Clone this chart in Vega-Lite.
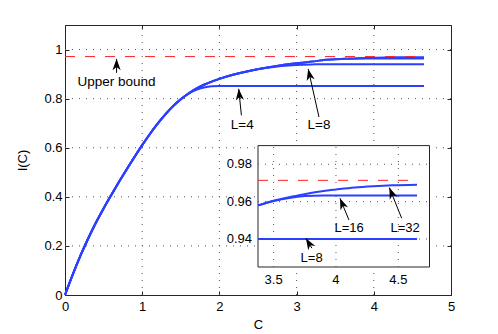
{
  "$schema": "https://vega.github.io/schema/vega-lite/v6.json",
  "width": 386,
  "height": 270,
  "autosize": {"type": "none"},
  "padding": {"left": 65, "top": 25, "right": 47, "bottom": 39},
  "background": "white",
  "config": {
    "view": {"stroke": "#262626", "strokeWidth": 1},
    "font": "Liberation Sans",
    "axis": {
      "labelFont": "Liberation Sans",
      "labelFontSize": 13,
      "labelColor": "black",
      "titleFont": "Liberation Sans",
      "titleFontSize": 13,
      "titleFontWeight": "normal",
      "titleColor": "black",
      "domainColor": "#262626",
      "tickColor": "#262626",
      "tickSize": -4,
      "labelFlush": false,
      "labelOverlap": false
    },
    "text": {"font": "Liberation Sans", "fontSize": 13, "color": "black"}
  },
  "datasets": {
    "curves": [
      {"L": "4", "C": 0, "I": 0}, {"L": "4", "C": 0.1, "I": 0.083}, {"L": "4", "C": 0.2, "I": 0.16}, {"L": "4", "C": 0.3, "I": 0.23}, {"L": "4", "C": 0.4, "I": 0.2945}, {"L": "4", "C": 0.5, "I": 0.3525}, {"L": "4", "C": 0.6, "I": 0.4075}, {"L": "4", "C": 0.7, "I": 0.461}, {"L": "4", "C": 0.8, "I": 0.5125}, {"L": "4", "C": 0.9, "I": 0.5625}, {"L": "4", "C": 1.0, "I": 0.6105}, {"L": "4", "C": 1.1, "I": 0.656}, {"L": "4", "C": 1.2, "I": 0.698}, {"L": "4", "C": 1.3, "I": 0.736}, {"L": "4", "C": 1.4, "I": 0.7695}, {"L": "4", "C": 1.5, "I": 0.7975}, {"L": "4", "C": 1.6, "I": 0.8205}, {"L": "4", "C": 1.7, "I": 0.836}, {"L": "4", "C": 1.8, "I": 0.8455}, {"L": "4", "C": 1.9, "I": 0.85}, {"L": "4", "C": 2.0, "I": 0.851}, {"L": "4", "C": 2.2, "I": 0.851}, {"L": "4", "C": 4.65, "I": 0.851},
      {"L": "8", "C": 0, "I": 0}, {"L": "8", "C": 0.1, "I": 0.083}, {"L": "8", "C": 0.2, "I": 0.16}, {"L": "8", "C": 0.3, "I": 0.23}, {"L": "8", "C": 0.4, "I": 0.2945}, {"L": "8", "C": 0.5, "I": 0.3525}, {"L": "8", "C": 0.6, "I": 0.4075}, {"L": "8", "C": 0.7, "I": 0.461}, {"L": "8", "C": 0.8, "I": 0.5125}, {"L": "8", "C": 0.9, "I": 0.5625}, {"L": "8", "C": 1.0, "I": 0.6105}, {"L": "8", "C": 1.1, "I": 0.656}, {"L": "8", "C": 1.2, "I": 0.698}, {"L": "8", "C": 1.3, "I": 0.736}, {"L": "8", "C": 1.4, "I": 0.7695}, {"L": "8", "C": 1.5, "I": 0.7975}, {"L": "8", "C": 1.6, "I": 0.821}, {"L": "8", "C": 1.7, "I": 0.8405}, {"L": "8", "C": 1.8, "I": 0.8565}, {"L": "8", "C": 1.9, "I": 0.8695}, {"L": "8", "C": 2.0, "I": 0.8805}, {"L": "8", "C": 2.2, "I": 0.899}, {"L": "8", "C": 2.4, "I": 0.9135}, {"L": "8", "C": 2.6, "I": 0.9245}, {"L": "8", "C": 2.8, "I": 0.9325}, {"L": "8", "C": 3.0, "I": 0.9375}, {"L": "8", "C": 3.2, "I": 0.9395}, {"L": "8", "C": 3.375, "I": 0.94}, {"L": "8", "C": 4.65, "I": 0.94},
      {"L": "16", "C": 0, "I": 0}, {"L": "16", "C": 0.1, "I": 0.083}, {"L": "16", "C": 0.2, "I": 0.16}, {"L": "16", "C": 0.3, "I": 0.23}, {"L": "16", "C": 0.4, "I": 0.2945}, {"L": "16", "C": 0.5, "I": 0.3525}, {"L": "16", "C": 0.6, "I": 0.4075}, {"L": "16", "C": 0.7, "I": 0.461}, {"L": "16", "C": 0.8, "I": 0.5125}, {"L": "16", "C": 0.9, "I": 0.5625}, {"L": "16", "C": 1.0, "I": 0.6105}, {"L": "16", "C": 1.1, "I": 0.656}, {"L": "16", "C": 1.2, "I": 0.698}, {"L": "16", "C": 1.3, "I": 0.736}, {"L": "16", "C": 1.4, "I": 0.7695}, {"L": "16", "C": 1.5, "I": 0.7975}, {"L": "16", "C": 1.6, "I": 0.821}, {"L": "16", "C": 1.7, "I": 0.8405}, {"L": "16", "C": 1.8, "I": 0.8565}, {"L": "16", "C": 1.9, "I": 0.8695}, {"L": "16", "C": 2.0, "I": 0.8805}, {"L": "16", "C": 2.2, "I": 0.899}, {"L": "16", "C": 2.4, "I": 0.914}, {"L": "16", "C": 2.6, "I": 0.926}, {"L": "16", "C": 2.8, "I": 0.936}, {"L": "16", "C": 3.0, "I": 0.944}, {"L": "16", "C": 3.2, "I": 0.951}, {"L": "16", "C": 3.375, "I": 0.958}, {"L": "16", "C": 3.5, "I": 0.9603}, {"L": "16", "C": 3.625, "I": 0.962}, {"L": "16", "C": 3.75, "I": 0.963}, {"L": "16", "C": 3.9, "I": 0.9633}, {"L": "16", "C": 4.65, "I": 0.9633},
      {"L": "32", "C": 0, "I": 0}, {"L": "32", "C": 0.1, "I": 0.083}, {"L": "32", "C": 0.2, "I": 0.16}, {"L": "32", "C": 0.3, "I": 0.23}, {"L": "32", "C": 0.4, "I": 0.2945}, {"L": "32", "C": 0.5, "I": 0.3525}, {"L": "32", "C": 0.6, "I": 0.4075}, {"L": "32", "C": 0.7, "I": 0.461}, {"L": "32", "C": 0.8, "I": 0.5125}, {"L": "32", "C": 0.9, "I": 0.5625}, {"L": "32", "C": 1.0, "I": 0.6105}, {"L": "32", "C": 1.1, "I": 0.656}, {"L": "32", "C": 1.2, "I": 0.698}, {"L": "32", "C": 1.3, "I": 0.736}, {"L": "32", "C": 1.4, "I": 0.7695}, {"L": "32", "C": 1.5, "I": 0.7975}, {"L": "32", "C": 1.6, "I": 0.821}, {"L": "32", "C": 1.7, "I": 0.8405}, {"L": "32", "C": 1.8, "I": 0.8565}, {"L": "32", "C": 1.9, "I": 0.8695}, {"L": "32", "C": 2.0, "I": 0.8805}, {"L": "32", "C": 2.2, "I": 0.899}, {"L": "32", "C": 2.4, "I": 0.914}, {"L": "32", "C": 2.6, "I": 0.926}, {"L": "32", "C": 2.8, "I": 0.936}, {"L": "32", "C": 3.0, "I": 0.944}, {"L": "32", "C": 3.2, "I": 0.951}, {"L": "32", "C": 3.375, "I": 0.958}, {"L": "32", "C": 3.5, "I": 0.9605}, {"L": "32", "C": 3.625, "I": 0.9624}, {"L": "32", "C": 3.75, "I": 0.964}, {"L": "32", "C": 3.9, "I": 0.9657}, {"L": "32", "C": 4.0, "I": 0.9665}, {"L": "32", "C": 4.15, "I": 0.9676}, {"L": "32", "C": 4.3, "I": 0.9683}, {"L": "32", "C": 4.45, "I": 0.9688}, {"L": "32", "C": 4.65, "I": 0.9691}
    ],
    "bound": [
      {"part": "main", "C": 0, "C2": 4.6, "I": 0.9714},
      {"part": "inset", "C": 3.375, "C2": 4.6, "I": 0.9714}
    ],
    "arrows": [
      {"part": "main", "id": "ub", "C": 0.668, "I": 0.905, "C2": 0.668, "I2": 0.962},
      {"part": "main", "id": "l4", "C": 2.285, "I": 0.732, "C2": 2.25, "I2": 0.84},
      {"part": "main", "id": "l8", "C": 3.29, "I": 0.725, "C2": 3.15, "I2": 0.921},
      {"part": "inset", "id": "l16", "C": 4.104, "I": 0.9502, "C2": 4.032, "I2": 0.9618},
      {"part": "inset", "id": "l32", "C": 4.527, "I": 0.9511, "C2": 4.428, "I2": 0.9675},
      {"part": "inset", "id": "l8i", "C": 3.807, "I": 0.9351, "C2": 3.759, "I2": 0.9404}
    ],
    "labels": [
      {"part": "main", "t": "Upper bound", "C": 0.668, "I": 0.868},
      {"part": "main", "t": "L=4", "C": 2.296, "I": 0.691},
      {"part": "main", "t": "L=8", "C": 3.29, "I": 0.691},
      {"part": "inset", "t": "L=16", "C": 4.106, "I": 0.9461},
      {"part": "inset", "t": "L=32", "C": 4.554, "I": 0.9461},
      {"part": "inset", "t": "L=8", "C": 3.805, "I": 0.9297}
    ],
    "mgx": [{"C": 1}, {"C": 2}, {"C": 3}, {"C": 4}],
    "mgy": [{"I": 0.2}, {"I": 0.4}, {"I": 0.6}, {"I": 0.8}, {"I": 1.0}],
    "box": [{"C": 3.375, "C2": 4.75, "I": 0.925, "I2": 0.99}],
    "igx": [{"C": 3.5}, {"C": 4}, {"C": 4.5}],
    "igy": [{"I": 0.94}, {"I": 0.96}, {"I": 0.98}]
  },
  "layer": [
    {
      "layer": [
        {
          "data": {"name": "mgx"},
          "mark": {"type": "rule", "color": "#555555", "strokeDash": [1, 6], "strokeWidth": 1},
          "encoding": {
            "x": {"field": "C", "type": "quantitative", "scale": {"domain": [0, 5], "nice": false, "zero": false}, "axis": null},
            "y": {"datum": 0, "type": "quantitative", "scale": {"domain": [0, 1.1], "nice": false}, "axis": null},
            "y2": {"datum": 1.1}
          }
        },
        {
          "data": {"name": "mgy"},
          "mark": {"type": "rule", "color": "#555555", "strokeDash": [1, 6], "strokeWidth": 1},
          "encoding": {
            "y": {"field": "I", "type": "quantitative", "axis": null},
            "x": {"datum": 0, "type": "quantitative", "axis": null},
            "x2": {"datum": 5}
          }
        },
        {
          "data": {"name": "curves"},
          "mark": {"type": "line", "color": "#2b3fff", "strokeWidth": 2, "interpolate": "monotone"},
          "encoding": {
            "x": {"field": "C", "type": "quantitative",
              "axis": {"orient": "bottom", "title": "C", "values": [0, 1, 2, 3, 4, 5], "format": "d", "grid": false, "domain": false, "labelPadding": 9, "titlePadding": 5}},
            "y": {"field": "I", "type": "quantitative",
              "axis": {"orient": "left", "title": "I(C)", "values": [0, 0.2, 0.4, 0.6, 0.8, 1], "format": ".1~f", "grid": false, "domain": false, "labelPadding": 7, "titlePadding": 14}},
            "detail": {"field": "L"}
          }
        },
        {
          "data": {"name": "bound"},
          "transform": [{"filter": "datum.part === 'main'"}],
          "mark": {"type": "rule", "color": "#ff2020", "strokeWidth": 1, "strokeDash": [10, 10]},
          "encoding": {
            "x": {"field": "C", "type": "quantitative", "axis": {"orient": "top", "values": [0, 1, 2, 3, 4, 5], "labels": false, "grid": false, "domain": false, "title": null}},
            "x2": {"field": "C2"},
            "y": {"field": "I", "type": "quantitative", "axis": {"orient": "right", "values": [0, 0.2, 0.4, 0.6, 0.8, 1], "labels": false, "grid": false, "domain": false, "title": null}}
          }
        },
        {
          "data": {"name": "arrows"},
          "transform": [{"filter": "datum.part === 'main'"}],
          "mark": {"type": "rule", "color": "black", "strokeWidth": 1},
          "encoding": {
            "x": {"field": "C", "type": "quantitative", "axis": null},
            "y": {"field": "I", "type": "quantitative", "axis": null},
            "x2": {"field": "C2"},
            "y2": {"field": "I2"}
          }
        },
        {
          "data": {"name": "arrows"},
          "transform": [{"filter": "datum.id === 'ub'"}],
          "mark": {"type": "point", "shape": "M0,0L0.36,1L0,0.72L-0.36,1Z", "size": 520, "filled": true, "color": "black", "opacity": 1, "angle": 0},
          "encoding": {"x": {"field": "C2", "type": "quantitative", "axis": null}, "y": {"field": "I2", "type": "quantitative", "axis": null}}
        },
        {
          "data": {"name": "arrows"},
          "transform": [{"filter": "datum.id === 'l4'"}],
          "mark": {"type": "point", "shape": "M0,0L0.36,1L0,0.72L-0.36,1Z", "size": 520, "filled": true, "color": "black", "opacity": 1, "angle": -5.8},
          "encoding": {"x": {"field": "C2", "type": "quantitative", "axis": null}, "y": {"field": "I2", "type": "quantitative", "axis": null}}
        },
        {
          "data": {"name": "arrows"},
          "transform": [{"filter": "datum.id === 'l8'"}],
          "mark": {"type": "point", "shape": "M0,0L0.36,1L0,0.72L-0.36,1Z", "size": 520, "filled": true, "color": "black", "opacity": 1, "angle": -12.6},
          "encoding": {"x": {"field": "C2", "type": "quantitative", "axis": null}, "y": {"field": "I2", "type": "quantitative", "axis": null}}
        },
        {
          "data": {"name": "labels"},
          "transform": [{"filter": "datum.part === 'main'"}],
          "mark": {"type": "text", "align": "center", "baseline": "middle", "fontSize": 13.5},
          "encoding": {
            "x": {"field": "C", "type": "quantitative", "axis": null},
            "y": {"field": "I", "type": "quantitative", "axis": null},
            "text": {"field": "t"}
          }
        }
      ],
      "resolve": {"axis": {"x": "independent", "y": "independent"}}
    },
    {
      "layer": [
        {
          "data": {"name": "box"},
          "mark": {"type": "rect", "fill": "white", "stroke": "#262626", "strokeWidth": 1},
          "encoding": {
            "x": {"field": "C", "type": "quantitative", "scale": {"domain": [3.375, 4.75], "range": [193, 364.5], "nice": false, "zero": false}, "axis": null},
            "x2": {"field": "C2"},
            "y": {"field": "I", "type": "quantitative", "scale": {"domain": [0.925, 0.99], "range": [242, 120.6], "nice": false, "zero": false}, "axis": null},
            "y2": {"field": "I2"}
          }
        },
        {
          "data": {"name": "igx"},
          "mark": {"type": "rule", "color": "#555555", "strokeDash": [1, 6], "strokeWidth": 1},
          "encoding": {
            "x": {"field": "C", "type": "quantitative", "axis": null},
            "y": {"datum": 0.925, "type": "quantitative", "axis": null},
            "y2": {"datum": 0.99}
          }
        },
        {
          "data": {"name": "igy"},
          "mark": {"type": "rule", "color": "#555555", "strokeDash": [1, 6], "strokeWidth": 1},
          "encoding": {
            "y": {"field": "I", "type": "quantitative", "axis": null},
            "x": {"datum": 3.375, "type": "quantitative", "axis": null},
            "x2": {"datum": 4.75}
          }
        },
        {
          "data": {"name": "igx"},
          "mark": {"type": "text", "align": "center", "baseline": "middle", "dy": 13},
          "encoding": {
            "x": {"field": "C", "type": "quantitative", "axis": null},
            "y": {"datum": 0.925, "type": "quantitative", "axis": null},
            "text": {"field": "C", "type": "quantitative", "format": ".1~f"}
          }
        },
        {
          "data": {"name": "igy"},
          "mark": {"type": "text", "align": "right", "baseline": "middle", "dx": -6},
          "encoding": {
            "y": {"field": "I", "type": "quantitative", "axis": null},
            "x": {"datum": 3.375, "type": "quantitative", "axis": null},
            "text": {"field": "I", "type": "quantitative", "format": ".2f"}
          }
        },
        {
          "data": {"name": "bound"},
          "transform": [{"filter": "datum.part === 'inset'"}],
          "mark": {"type": "rule", "color": "#ff2020", "strokeWidth": 1, "strokeDash": [10, 10]},
          "encoding": {
            "x": {"field": "C", "type": "quantitative", "axis": null},
            "x2": {"field": "C2"},
            "y": {"field": "I", "type": "quantitative", "axis": null}
          }
        },
        {
          "data": {"name": "curves"},
          "transform": [{"filter": "datum.C >= 3.375 && datum.L !== '4'"}],
          "mark": {"type": "line", "color": "#2b3fff", "strokeWidth": 2, "interpolate": "monotone"},
          "encoding": {
            "x": {"field": "C", "type": "quantitative", "axis": null},
            "y": {"field": "I", "type": "quantitative", "axis": null},
            "detail": {"field": "L"}
          }
        },
        {
          "data": {"name": "arrows"},
          "transform": [{"filter": "datum.part === 'inset'"}],
          "mark": {"type": "rule", "color": "black", "strokeWidth": 1},
          "encoding": {
            "x": {"field": "C", "type": "quantitative", "axis": null},
            "y": {"field": "I", "type": "quantitative", "axis": null},
            "x2": {"field": "C2"},
            "y2": {"field": "I2"}
          }
        },
        {
          "data": {"name": "arrows"},
          "transform": [{"filter": "datum.id === 'l16'"}],
          "mark": {"type": "point", "shape": "M0,0L0.36,1L0,0.72L-0.36,1Z", "size": 520, "filled": true, "color": "black", "opacity": 1, "angle": -22.5},
          "encoding": {"x": {"field": "C2", "type": "quantitative", "axis": null}, "y": {"field": "I2", "type": "quantitative", "axis": null}}
        },
        {
          "data": {"name": "arrows"},
          "transform": [{"filter": "datum.id === 'l32'"}],
          "mark": {"type": "point", "shape": "M0,0L0.36,1L0,0.72L-0.36,1Z", "size": 520, "filled": true, "color": "black", "opacity": 1, "angle": -21.9},
          "encoding": {"x": {"field": "C2", "type": "quantitative", "axis": null}, "y": {"field": "I2", "type": "quantitative", "axis": null}}
        },
        {
          "data": {"name": "arrows"},
          "transform": [{"filter": "datum.id === 'l8i'"}],
          "mark": {"type": "point", "shape": "M0,0L0.36,1L0,0.72L-0.36,1Z", "size": 520, "filled": true, "color": "black", "opacity": 1, "angle": -31},
          "encoding": {"x": {"field": "C2", "type": "quantitative", "axis": null}, "y": {"field": "I2", "type": "quantitative", "axis": null}}
        },
        {
          "data": {"name": "labels"},
          "transform": [{"filter": "datum.part === 'inset'"}],
          "mark": {"type": "text", "align": "center", "baseline": "middle"},
          "encoding": {
            "x": {"field": "C", "type": "quantitative", "axis": null},
            "y": {"field": "I", "type": "quantitative", "axis": null},
            "text": {"field": "t"}
          }
        }
      ]
    }
  ],
  "resolve": {"scale": {"x": "independent", "y": "independent"}, "axis": {"x": "independent", "y": "independent"}}
}
